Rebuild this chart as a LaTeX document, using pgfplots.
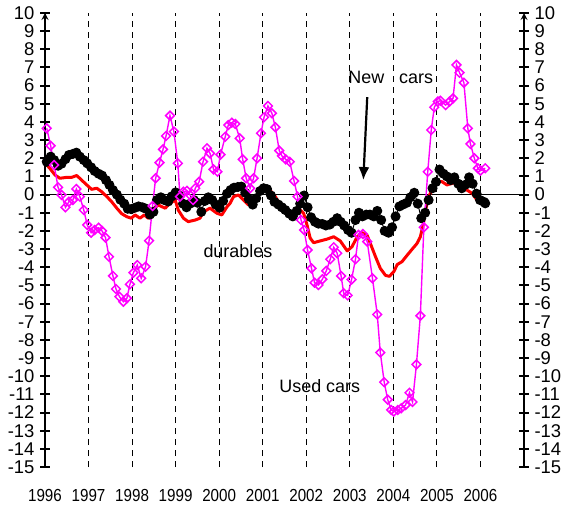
\documentclass[border=0pt]{standalone}
\usepackage{fontspec}
\setmainfont{Liberation Sans}
\newfontfamily\narrowfont{Liberation Sans}[FakeStretch=0.87]
\usepackage{pgfplots}
\usepackage{pgfplotstable}
\pgfplotsset{compat=1.18}
\usetikzlibrary{arrows.meta}

\definecolor{mag}{HTML}{FF00FF}
\definecolor{rd}{HTML}{FF0000}

% durables (red line)
\pgfplotstableread{
x y
1996.04 1.63
1996.11 1.45
1996.23 1.08
1996.34 0.90
1996.50 0.95
1996.61 0.95
1996.73 1.05
1996.84 0.80
1996.96 0.53
1997.07 0.29
1997.19 0.35
1997.30 0.16
1997.42 -0.11
1997.53 -0.39
1997.65 -0.75
1997.76 -1.05
1997.88 -1.22
1997.98 -1.30
1998.07 -1.12
1998.18 -1.30
1998.28 -1.12
1998.37 -1.30
1998.46 -0.85
1998.60 -0.57
1998.76 -0.75
1998.87 -0.48
1998.99 -0.30
1999.06 -0.85
1999.18 -1.30
1999.29 -1.49
1999.45 -1.40
1999.56 -1.30
1999.64 -0.94
1999.79 -0.75
1999.95 -1.03
2000.06 -1.12
2000.18 -0.67
2000.25 -0.48
2000.33 -0.11
2000.44 -0.02
2000.56 -0.30
2000.67 -0.57
2000.80 -0.45
2000.94 0.16
2001.10 0.44
2001.29 -0.11
2001.40 -0.57
2001.56 -0.85
2001.71 -1.12
2001.82 -0.75
2001.94 -1.03
2002.02 -1.70
2002.09 -2.40
2002.17 -2.65
2002.32 -2.55
2002.48 -2.45
2002.63 -2.32
2002.78 -2.55
2002.94 -3.10
2003.05 -2.87
2003.17 -2.32
2003.28 -2.10
2003.40 -2.25
2003.47 -2.68
2003.59 -3.42
2003.70 -4.06
2003.82 -4.45
2003.91 -4.50
2004.01 -4.24
2004.09 -3.85
2004.20 -3.69
2004.32 -3.33
2004.43 -3.01
2004.54 -2.70
2004.62 -2.32
2004.69 -1.60
2004.74 -0.85
2004.81 -0.11
2004.93 0.44
2005.00 0.71
2005.12 0.71
2005.23 0.53
2005.35 0.62
2005.46 0.66
2005.58 0.53
2005.69 0.25
2005.81 0.07
2005.92 -0.30
2006.04 -0.48
2006.11 -0.57
}\durables

% new cars (black dots)
\pgfplotstableread{
x y
1996.04 1.81
1996.13 2.09
1996.21 1.90
1996.30 1.59
1996.38 1.70
1996.47 1.95
1996.55 2.18
1996.64 2.24
1996.72 2.31
1996.80 2.09
1996.89 1.90
1996.97 1.72
1997.06 1.50
1997.14 1.30
1997.23 1.15
1997.31 1.05
1997.40 0.80
1997.48 0.53
1997.56 0.25
1997.65 0.00
1997.73 -0.28
1997.82 -0.50
1997.90 -0.78
1997.98 -0.80
1998.07 -0.72
1998.15 -0.65
1998.24 -0.70
1998.32 -0.78
1998.41 -1.10
1998.49 -0.95
1998.57 -0.30
1998.66 -0.15
1998.74 -0.30
1998.83 -0.38
1998.91 -0.10
1999.00 0.12
1999.08 -0.05
1999.17 -0.50
1999.25 -0.70
1999.33 -0.50
1999.42 -0.30
1999.50 -0.45
1999.59 -0.95
1999.67 -0.35
1999.75 -0.15
1999.84 -0.30
1999.92 -0.55
2000.01 -0.72
2000.09 -0.35
2000.18 0.05
2000.26 0.25
2000.34 0.38
2000.43 0.42
2000.51 0.44
2000.60 0.10
2000.68 -0.25
2000.77 -0.55
2000.85 -0.20
2000.94 0.20
2001.02 0.35
2001.10 0.30
2001.19 -0.05
2001.27 -0.40
2001.36 -0.55
2001.44 -0.70
2001.52 -0.85
2001.61 -1.05
2001.69 -1.20
2001.78 -0.90
2001.86 -0.50
2001.95 -0.05
2002.03 -0.70
2002.11 -1.25
2002.20 -1.50
2002.28 -1.60
2002.37 -1.62
2002.45 -1.70
2002.54 -1.65
2002.62 -1.50
2002.71 -1.30
2002.79 -1.50
2002.87 -1.70
2002.96 -1.95
2003.04 -2.10
2003.13 -1.40
2003.21 -1.00
2003.29 -1.20
2003.38 -1.10
2003.46 -1.10
2003.55 -1.20
2003.63 -0.90
2003.72 -1.40
2003.80 -2.00
2003.89 -2.10
2003.97 -1.80
2004.05 -1.20
2004.14 -0.65
2004.22 -0.55
2004.31 -0.45
2004.39 -0.15
2004.48 0.10
2004.56 -0.50
2004.64 -1.30
2004.73 -1.00
2004.81 -0.30
2004.90 0.35
2004.98 0.70
2005.06 1.38
2005.15 1.15
2005.23 1.00
2005.32 0.80
2005.40 0.95
2005.49 0.60
2005.57 0.35
2005.66 0.55
2005.74 0.95
2005.82 0.60
2005.91 0.05
2005.99 -0.30
2006.08 -0.40
2006.11 -0.48
}\newcars

% used cars (magenta diamonds)
\pgfplotstableread{
x y
1996.04 3.65
1996.13 2.69
1996.21 1.63
1996.30 0.40
1996.38 -0.02
1996.47 -0.70
1996.55 -0.39
1996.64 -0.30
1996.72 0.31
1996.80 -0.11
1996.89 -0.85
1996.97 -1.67
1997.06 -2.10
1997.14 -1.95
1997.23 -1.82
1997.31 -2.00
1997.39 -2.37
1997.47 -3.42
1997.56 -4.48
1997.63 -5.20
1997.71 -5.62
1997.80 -5.90
1997.88 -5.71
1997.95 -4.94
1998.03 -4.30
1998.12 -3.88
1998.21 -4.61
1998.31 -3.97
1998.39 -2.54
1998.47 -0.63
1998.54 0.90
1998.63 1.76
1998.71 2.49
1998.78 3.23
1998.87 4.35
1998.96 3.47
1999.05 1.72
1999.10 -0.11
1999.18 0.16
1999.26 0.21
1999.33 -0.02
1999.40 -0.30
1999.45 0.35
1999.54 0.71
1999.63 1.81
1999.72 2.55
1999.79 2.27
1999.87 1.39
1999.96 1.26
2000.03 2.20
2000.14 3.19
2000.21 3.83
2000.29 3.96
2000.37 3.89
2000.47 3.10
2000.54 1.94
2000.62 0.90
2000.71 0.35
2000.79 0.90
2000.87 2.00
2000.96 3.38
2001.03 4.26
2001.12 4.88
2001.21 4.48
2001.29 3.71
2001.38 2.42
2001.44 2.13
2001.53 1.94
2001.62 1.81
2001.72 0.75
2001.80 -0.11
2001.88 -1.40
2001.95 -1.95
2002.03 -3.05
2002.12 -4.06
2002.19 -4.85
2002.28 -4.98
2002.37 -4.66
2002.46 -4.20
2002.55 -3.56
2002.63 -2.90
2002.71 -3.23
2002.80 -4.48
2002.86 -5.43
2002.95 -5.55
2003.04 -4.68
2003.13 -3.56
2003.20 -2.22
2003.30 -2.17
2003.40 -2.59
2003.52 -4.61
2003.63 -6.60
2003.70 -8.70
2003.79 -10.33
2003.87 -11.29
2003.95 -11.86
2004.01 -11.95
2004.10 -11.86
2004.18 -11.77
2004.28 -11.59
2004.37 -10.91
2004.44 -11.42
2004.53 -9.35
2004.62 -6.67
2004.70 -1.80
2004.79 1.26
2004.87 3.56
2004.94 4.81
2005.02 5.13
2005.08 5.17
2005.20 4.93
2005.29 5.12
2005.37 5.30
2005.45 7.14
2005.52 6.71
2005.62 6.16
2005.71 3.65
2005.77 2.79
2005.86 2.00
2005.94 1.45
2006.00 1.32
2006.11 1.45
}\usedcars

\begin{document}
\begin{tikzpicture}
\useasboundingbox (-45bp,-40bp) rectangle (524bp,467bp);
\pgfplotsset{
  base/.style={
    scale only axis, width=479bp, height=454bp,
    xmin=1996, xmax=2007, ymin=-15, ymax=10,
    ytick={-15,...,10},
    yticklabels={-15,-14,-13,-12,-11,-10,-9,-8,-7,-6,-5,-4,-3,-2,-1,0,1,2,3,4,5,6,7,8,9,10},
    yticklabel style={font=\fontsize{18.5}{18.5}\selectfont},
    major tick length=10bp, tick align=center,
    ytick style={black, line width=2bp},
    axis line style={black, line width=2bp, -},
  }
}
\begin{axis}[
  base,
  at={(0,0)}, anchor=south west,
  axis x line=bottom, axis y line=left,
  x axis line style={draw=none},
  xtick={1996,...,2006},
  xticklabels={1996,1997,1998,1999,2000,2001,2002,2003,2004,2005,2006},
  xtick style={draw=none},
  xticklabel style={font=\narrowfont\fontsize{17.5}{17.5}\selectfont, yshift=-14bp},
  yticklabel style={xshift=-2bp},
  xmajorgrids,
  major grid style={black, line width=0.9bp, dash pattern=on 6bp off 5bp},
  clip=false,
]
  \addplot[black, line width=1.4bp, forget plot] coordinates {(1996,0) (2007,0)};
  \addplot[rd, line width=3bp, line join=round, no marks] table {\durables};
  \addplot[black, line width=1bp, mark=*, mark size=4.5bp,
           mark options={fill=black}] table {\newcars};
  \addplot[mag, line width=1.4bp, mark=square, mark size=3.1bp,
           mark options={fill=white, draw=mag, line width=1.5bp, rotate=45}] table {\usedcars};
  \node[font=\fontsize{18}{18}\selectfont] at (axis cs:2003.94,6.45) {New\hspace{10bp} cars};
  \node[font=\fontsize{18}{18}\selectfont] at (axis cs:2000.43,-3.09) {durables};
  \node[font=\fontsize{18}{18}\selectfont] at (axis cs:2002.31,-10.53) {Used cars};
  \draw[black, line width=2.2bp, -{Latex[length=13bp,width=11bp]}]
    (axis cs:2003.40,5.37) -- (axis cs:2003.31,0.80);
\end{axis}
\begin{axis}[
  base,
  at={(0,0)}, anchor=south west,
  axis x line=none, axis y line=right,
  xtick=\empty,
  yticklabel style={xshift=2bp},
]
\end{axis}
\end{tikzpicture}
\end{document}
